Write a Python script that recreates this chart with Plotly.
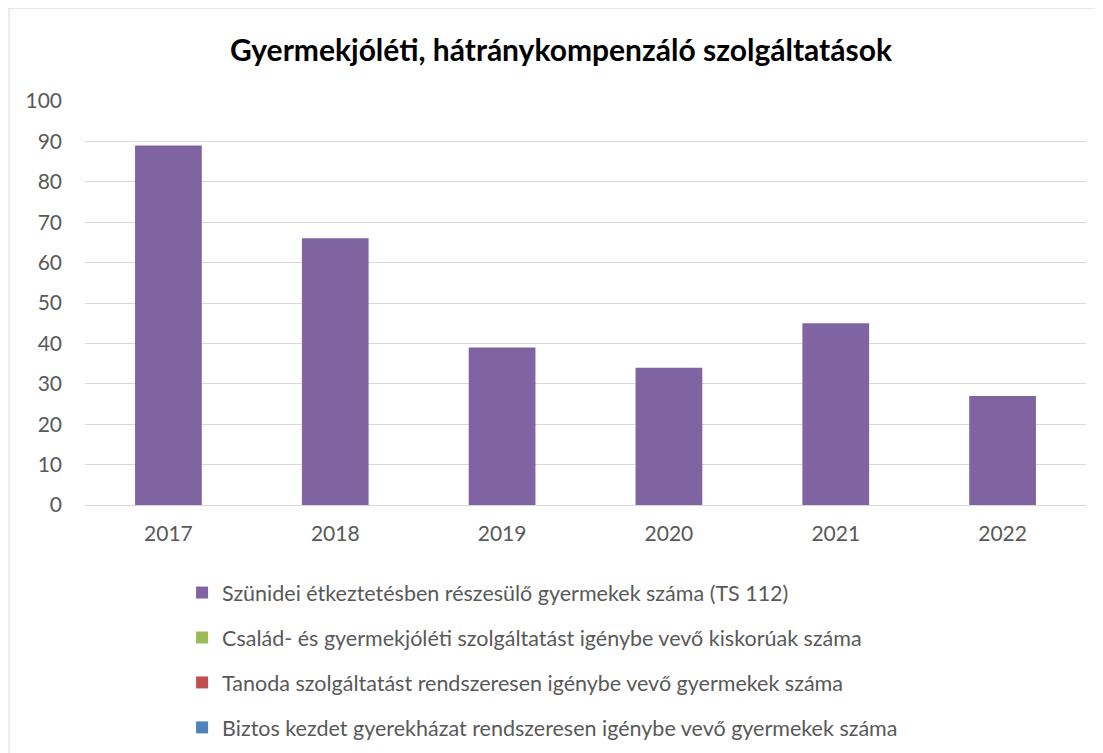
import plotly.graph_objects as go

years = ["2017", "2018", "2019", "2020", "2021", "2022"]
szunidei = [89, 66, 39, 34, 45, 27]
csalad = [0, 0, 0, 0, 0, 0]
tanoda = [0, 0, 0, 0, 0, 0]
biztos = [0, 0, 0, 0, 0, 0]

series_names = [
    "Szünidei étkeztetésben részesülő gyermekek száma (TS 112)",
    "Család- és gyermekjóléti szolgáltatást igénybe vevő kiskorúak száma",
    "Tanoda szolgáltatást rendszeresen igénybe vevő gyermekek száma",
    "Biztos kezdet gyerekházat rendszeresen igénybe vevő gyermekek száma",
]
series_values = [szunidei, csalad, tanoda, biztos]
colors = ["#8064A2", "#9BBB59", "#C0504D", "#4F81BD"]

FONT = "Lato"
W, H = 1095, 745

fig = go.Figure()
for i, (name, vals, col) in enumerate(zip(series_names, series_values, colors)):
    fig.add_trace(go.Bar(
        x=years, y=vals, name=name,
        marker=dict(color=col, line=dict(width=0)),
        width=0.4, legendgroup=f"g{i}",
    ))

fig.update_layout(
    width=W, height=H,
    margin=dict(l=77, r=17, t=93, b=248, autoexpand=False),
    paper_bgcolor="white", plot_bgcolor="white",
    barmode="overlay",
    font=dict(family=FONT, color="#595959", size=21),
    title=dict(
        text="<b>Gyermekjóléti, hátránykompenzáló szolgáltatások</b>",
        font=dict(family=FONT, size=30, color="black"),
        x=553 / W, xref="container", xanchor="center",
        y=1 - 42 / H, yref="container", yanchor="middle",
    ),
    showlegend=True,
    legend=dict(
        orientation="v", x=0.097, xanchor="left", y=-0.166, yanchor="top",
        font=dict(family=FONT, size=21.5, color="#595959"),
        tracegroupgap=14, traceorder="grouped",
        itemwidth=30,
    ),
    xaxis=dict(
        showgrid=False, showline=True, linecolor="#d9d9d9", linewidth=1,
        ticks="", tickfont=dict(size=21, color="#595959"),
        ticklabelstandoff=10,
    ),
    yaxis=dict(
        range=[0, 100], dtick=10, showgrid=True, gridcolor="#d9d9d9", gridwidth=1,
        zeroline=False, showline=False, ticks="",
        tickfont=dict(size=21, color="#595959"), ticklabelstandoff=22,
    ),
    shapes=[dict(
        type="rect", xref="paper", yref="paper",
        x0=-0.0759, x1=1.2, y0=-1.0, y1=1.230,
        line=dict(color="#d9d9d9", width=1), fillcolor="rgba(0,0,0,0)", layer="below",
    )],
)

fig.write_html("out.html")
